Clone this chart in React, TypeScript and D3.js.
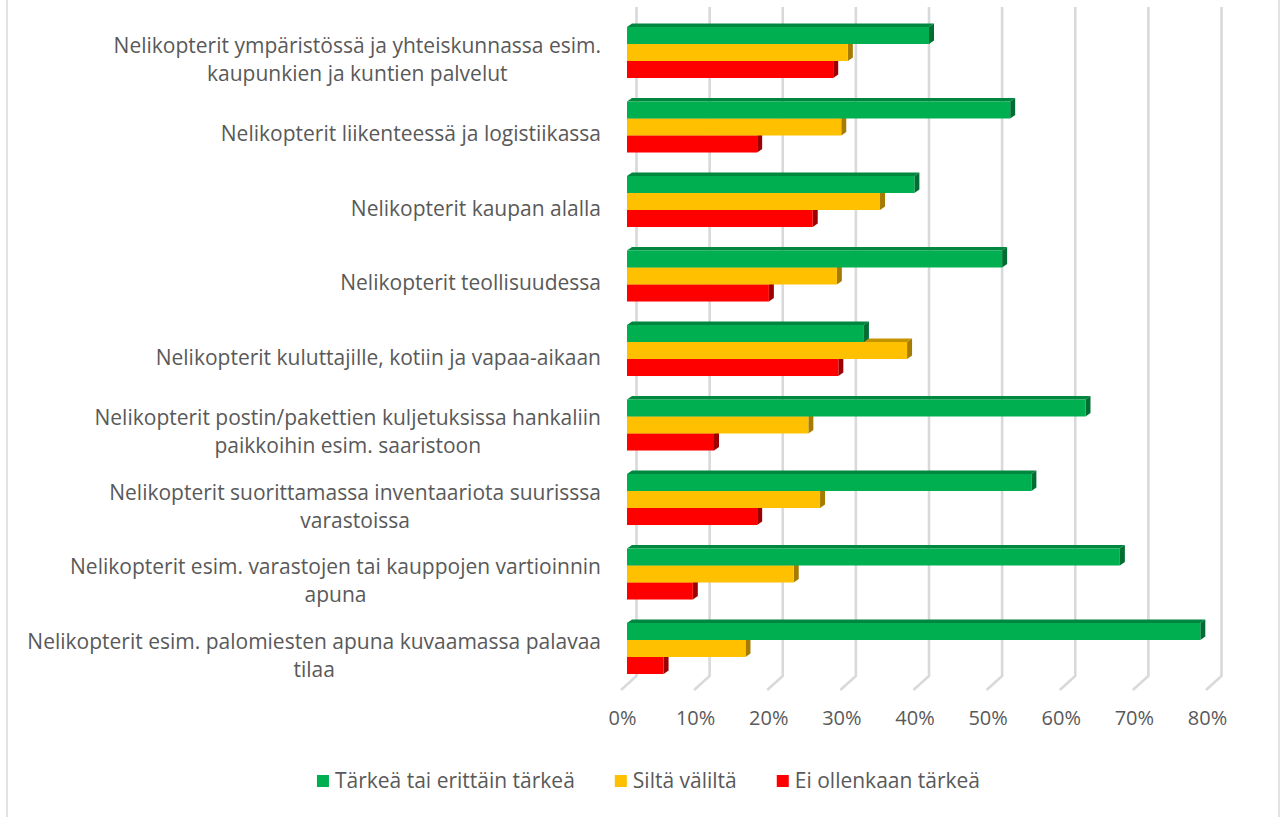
import React, { useEffect, useRef } from 'react';
import * as d3 from 'd3';

const categories = [
  'Nelikopterit ympäristössä ja yhteiskunnassa esim.\nkaupunkien ja kuntien palvelut',
  'Nelikopterit liikenteessä ja logistiikassa',
  'Nelikopterit kaupan alalla',
  'Nelikopterit teollisuudessa',
  'Nelikopterit kuluttajille, kotiin ja vapaa-aikaan',
  'Nelikopterit postin/pakettien kuljetuksissa hankaliin\npaikkoihin esim. saaristoon',
  'Nelikopterit suorittamassa inventaariota suurisssa\nvarastoissa',
  'Nelikopterit esim. varastojen tai kauppojen vartioinnin\napuna',
  'Nelikopterit esim. palomiesten apuna kuvaamassa palavaa\ntilaa',
];

const seriesNames = ['Tärkeä tai erittäin tärkeä', 'Siltä väliltä', 'Ei ollenkaan tärkeä'];
const important = [0.413, 0.524, 0.393, 0.513, 0.324, 0.627, 0.553, 0.674, 0.784];
const neutral = [0.302, 0.293, 0.346, 0.287, 0.383, 0.248, 0.264, 0.228, 0.162];
const notImportant = [0.282, 0.178, 0.254, 0.194, 0.289, 0.119, 0.178, 0.090, 0.050];
const tickValues = [0, 0.1, 0.2, 0.3, 0.4, 0.5, 0.6, 0.7, 0.8];

const colors = ['#00b050', '#ffc000', '#ff0000'];
const topColors = ['#00873f', '#c49400', '#c00000'];
const sideColors = ['#006e33', '#a67c00', '#9c0000'];

const FONT = '"Open Sans", "Noto Sans", sans-serif';
const TEXT = '#595959';

const App: React.FC = () => {
  const svgRef = useRef<SVGSVGElement>(null);

  useEffect(() => {
    if (!svgRef.current) return;
    const height = 817;
    const svg = d3.select(svgRef.current);
    svg.selectAll('*').remove();

    const values = [important, neutral, notImportant];

    // chart border (top and bottom fall outside the frame)
    svg.append('rect')
      .attr('x', 7).attr('y', -5)
      .attr('width', 1272).attr('height', height + 10)
      .attr('fill', '#fff')
      .attr('stroke', '#d9d9d9')
      .attr('stroke-width', 1.5);

    // floor front edge, back wall and the bar plane
    const xFront = d3.scaleLinear().domain([0, 0.8]).range([621, 1206]);
    const backDx = 15.5, backDy = -14;
    const xBar = d3.scaleLinear().domain([0, 0.8]).range([627, 1212]);
    const floorY = 690;
    const wallTop = 7;

    const y = d3.scaleBand<string>()
      .domain(categories)
      .range([15.25, 685.75])
      .paddingInner(0.315)
      .paddingOuter(0.1575);
    const ySub = d3.scaleBand<number>()
      .domain([0, 1, 2])
      .range([0, y.bandwidth()]);

    // gridlines
    svg.append('g')
      .selectAll('path')
      .data(tickValues)
      .enter()
      .append('path')
      .attr('fill', 'none')
      .attr('stroke', '#d9d9d9')
      .attr('stroke-width', 2.6)
      .attr('d', d => {
        const xb = xFront(d) + backDx;
        return `M${xb},${wallTop}L${xb},${floorY + backDy}L${xFront(d)},${floorY}`;
      });

    // bars
    const dx = 5, dy = -3.5;
    const bars = svg.append('g');
    categories.forEach((c, i) => {
      [2, 1, 0].forEach(s => {
        const v = values[s][i];
        const x0 = xBar(0);
        const x1 = xBar(v);
        const top = (y(c) as number) + (ySub(s) as number);
        const h = ySub.bandwidth();
        bars.append('polygon')
          .attr('points', `${x0},${top} ${x0 + dx},${top + dy} ${x1 + dx},${top + dy} ${x1},${top}`)
          .attr('fill', topColors[s]);
        bars.append('polygon')
          .attr('points', `${x1},${top} ${x1 + dx},${top + dy} ${x1 + dx},${top + h + dy} ${x1},${top + h}`)
          .attr('fill', sideColors[s]);
        bars.append('rect')
          .attr('x', x0).attr('y', top)
          .attr('width', x1 - x0).attr('height', h)
          .attr('fill', colors[s]);
      });
    });

    // category labels: block right-aligned, lines centred within it
    const lineH = 28;
    const labelRight = 601;
    const labels = svg.append('g')
      .attr('font-family', FONT)
      .attr('font-size', 21)
      .attr('fill', TEXT)
      .attr('text-anchor', 'middle');
    categories.forEach(c => {
      const lines = c.split('\n');
      const cy = (y(c) as number) + y.bandwidth() / 2 + 7;
      const t = labels.append('text');
      const spans = lines.map((ln, k) =>
        t.append('tspan')
          .attr('y', cy + (k - (lines.length - 1) / 2) * lineH)
          .attr('dy', '0.35em')
          .text(ln)
      );
      const maxW = d3.max(spans, sp => (sp.node() as SVGTSpanElement).getComputedTextLength()) || 0;
      spans.forEach(sp => sp.attr('x', labelRight - maxW / 2));
    });

    // tick labels
    svg.append('g')
      .attr('font-family', FONT)
      .attr('font-size', 20)
      .attr('fill', TEXT)
      .attr('text-anchor', 'middle')
      .selectAll('text')
      .data(tickValues)
      .enter()
      .append('text')
      .attr('x', d => xFront(d) + 1.5)
      .attr('y', 718)
      .attr('dy', '0.35em')
      .text(d => d3.format('.0%')(d));

    // legend
    const legend = svg.append('g')
      .attr('font-family', FONT)
      .attr('font-size', 21)
      .attr('fill', TEXT);
    const legendY = 781;
    const sq = 12, gapIn = 6, gapOut = 40;
    const items = seriesNames.map((n, s) => {
      const g = legend.append('g');
      g.append('rect')
        .attr('x', 0).attr('y', legendY - sq / 2)
        .attr('width', sq).attr('height', sq)
        .attr('fill', colors[s]);
      const t = g.append('text')
        .attr('x', sq + gapIn)
        .attr('y', legendY)
        .attr('dy', '0.35em')
        .text(n);
      const w = sq + gapIn + (t.node() as SVGTextElement).getComputedTextLength();
      return { g, w };
    });
    const total = d3.sum(items, d => d.w) + gapOut * (items.length - 1);
    let lx = 648.5 - total / 2;
    items.forEach(it => {
      it.g.attr('transform', `translate(${lx},0)`);
      lx += it.w + gapOut;
    });
  }, []);

  return (
    <svg
      ref={svgRef}
      width={1282}
      height={817}
      viewBox="0 0 1282 817"
      style={{ position: 'absolute', left: 0, top: 0, background: '#fff' }}
    />
  );
};

export default App;
